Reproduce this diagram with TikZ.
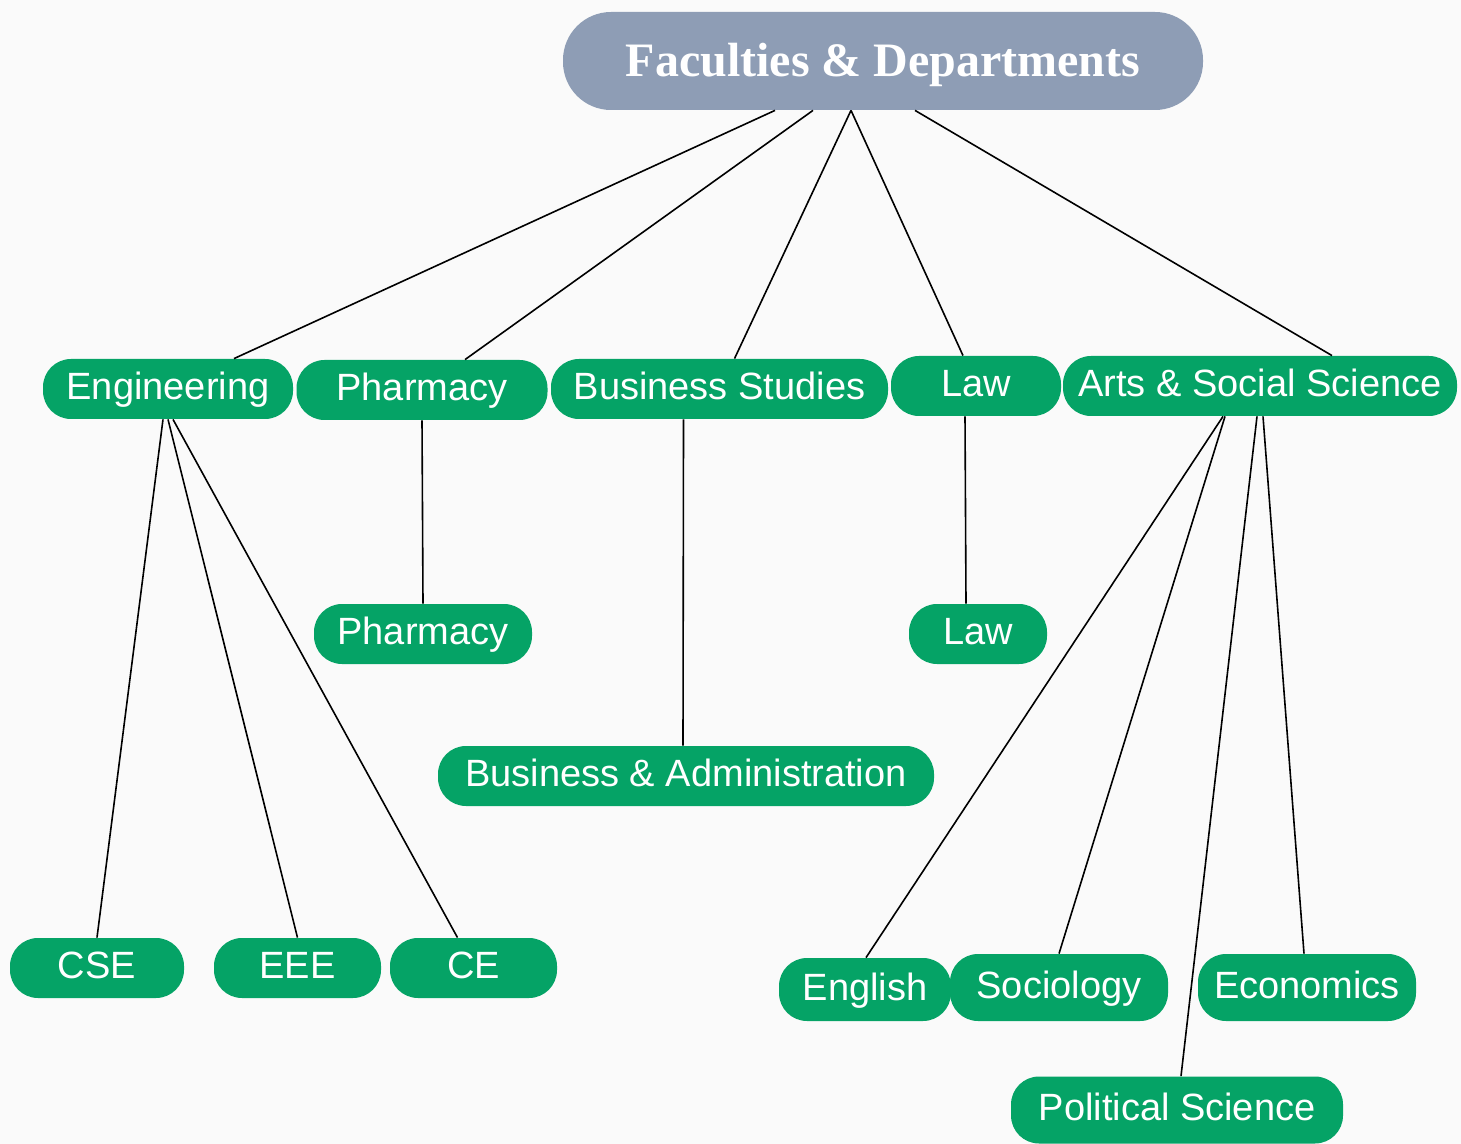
\documentclass[tikz,border=0pt]{standalone}
\usepackage{fontspec}
\setmainfont{Liberation Sans}
\newfontfamily\titlefont{Liberation Serif}
\usetikzlibrary{calc}
\definecolor{deptgreen}{RGB}{5,163,102}
\definecolor{headgrey}{RGB}{142,157,181}
\definecolor{paper}{RGB}{250,250,250}

\begin{document}
\begin{tikzpicture}[x=0.5pt,y=-0.5pt]
    \tikzstyle{every node}+=[inner sep=0pt]
    \tikzstyle{dept}=[fill=deptgreen, text=white, rounded corners=14pt, minimum height=30pt, text height=13.7pt, text depth=3.1pt, font=\fontsize{19}{22}\selectfont]
    \tikzstyle{head}=[fill=headgrey, text=white, rounded corners=24pt, minimum height=49pt, minimum width=320pt, text height=17pt, text depth=1pt, font=\titlefont\bfseries\fontsize{24}{28}\selectfont]
    \tikzstyle{link}=[black, line width=0.8pt]
    \fill [paper] (0,0) rectangle (1461,1144);
    \useasboundingbox (0,0) rectangle (1461,1144);
    % top
    \node [head] (fac) at (883,61) {Faculties \& Departments};
    % faculties
    \node [dept, minimum width=125pt] (eng) at (168,389) {Engineering};
    \node [dept, minimum width=125.5pt] (phar) at (422,390) {Pharmacy};
    \node [dept, minimum width=168.5pt] (bus) at (719.5,389) {Business Studies};
    \node [dept, minimum width=85pt] (law) at (976,386) {Law};
    \node [dept, minimum width=197pt] (arts) at (1260,386) {Arts \& Social Science};
    % departments
    \node [dept, minimum width=109pt] (pharmd) at (423,634) {Pharmacy};
    \node [dept, minimum width=69pt] (lawd) at (978,634) {Law};
    \node [dept, minimum width=248pt] (busad) at (686,776) {Business \& Administration};
    \node [dept, minimum width=87pt] (cse) at (97,968) {CSE};
    \node [dept, minimum width=83.5pt] (eee) at (297.5,968) {EEE};
    \node [dept, minimum width=83.5pt] (ce) at (473.5,968) {CE};
    \node [dept, minimum width=86pt, minimum height=31.5pt] (engl) at (865,989.5) {English};
    \node [dept, minimum width=109pt, minimum height=33.5pt] (soc) at (1059,987.5) {Sociology};
    \node [dept, minimum width=109pt, minimum height=33.5pt] (econ) at (1307,987.5) {Economics};
    \node [dept, minimum width=166pt, minimum height=33.5pt] (pol) at (1177,1110) {Political Science};
    % links from the top
    \draw [link] ($(fac.south)+(-108,0)$) -- ($(eng.north)+(66,0)$);
    \draw [link] ($(fac.south)+(-70,0)$) -- ($(phar.north)+(43,0)$);
    \draw [link] ($(fac.south)+(-32,0)$) -- ($(bus.north)+(15,0)$);
    \draw [link] ($(fac.south)+(-32,0)$) -- ($(law.north)+(-13,0)$);
    \draw [link] ($(fac.south)+(32,0)$) -- ($(arts.north)+(72,0)$);
    % links to departments
    \draw [link] ($(eng.south)+(-5,0)$) -- (cse.north);
    \draw [link] (eng.south) -- (eee.north);
    \draw [link] ($(eng.south)+(5,0)$) -- ($(ce.north)+(-16,0)$);
    \draw [link] (phar.south) -- (pharmd.north);
    \draw [link] ($(bus.south)+(-36,0)$) -- ($(busad.north)+(-3,0)$);
    \draw [link] ($(law.south)+(-11,0)$) -- ($(lawd.north)+(-12,0)$);
    \draw [link] ($(arts.south)+(-37,0)$) -- ($(engl.north)+(1,0)$);
    \draw [link] ($(arts.south)+(-35,0)$) -- (soc.north);
    \draw [link] ($(arts.south)+(-3,0)$) -- ($(pol.north)+(4,0)$);
    \draw [link] ($(arts.south)+(3,0)$) -- ($(econ.north)+(-3,0)$);
\end{tikzpicture}
\end{document}
